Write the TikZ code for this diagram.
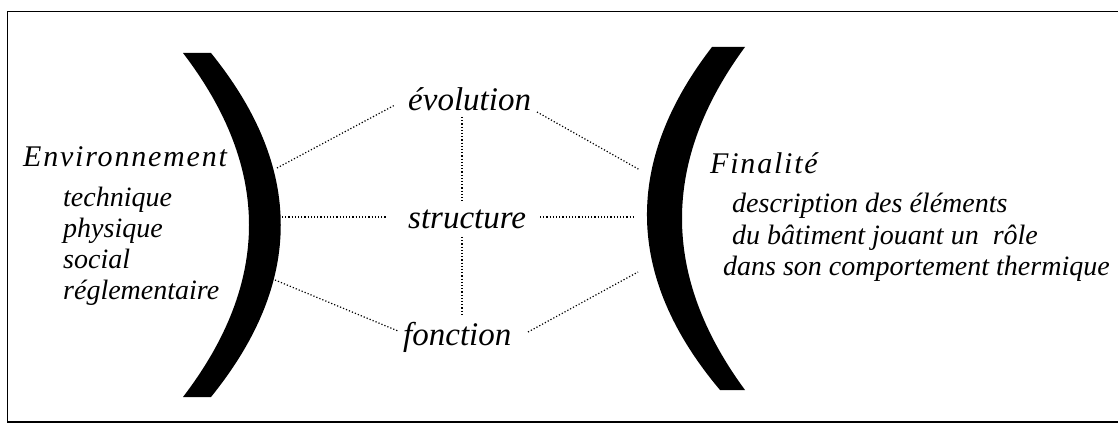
\documentclass[tikz,border=0pt]{standalone}
\usepackage{fontspec}
\setmainfont{Liberation Serif}
\newfontfamily\headfont[LetterSpace=6]{Liberation Serif}
\begin{document}
\begin{tikzpicture}[x=1pt,y=-1pt,
  lbl/.style={anchor=base west,inner sep=0pt,font=\fontsize{28}{32}\selectfont\itshape},
  midlbl/.style={anchor=base west,inner sep=0pt,font=\fontsize{33}{36}\selectfont\itshape},
  headlbl/.style={anchor=base west,inner sep=0pt,font=\headfont\fontsize{30}{34}\selectfont\itshape},
  dots/.style={line width=1.2pt,dash pattern=on 1.2pt off 2pt},
  bracket/.style={fill=black,draw=none}]
\useasboundingbox (0,0) rectangle (1118,427);
\draw[line width=1.6pt] (7.5,11.5) rectangle (1130,422);
% brackets
\fill[bracket] (183,53) -- (211,53) .. controls (304,168) and (304,282) .. (211,397)
  -- (183,397) .. controls (271,282) and (271,168) .. (183,53) -- cycle;
\fill[bracket] (712,47) -- (745,47) .. controls (661,161) and (661,276) .. (745,390)
  -- (720,390) .. controls (624,276) and (624,161) .. (712,47) -- cycle;
% texts
\node[headlbl] (env) at (23,167) {Environnement};
\node[lbl] (tech) at (63,207) {technique};
\node[lbl] (phys) at (63,238) {physique};
\node[lbl] (soc) at (63,269) {social};
\node[lbl] (regl) at (63,300) {réglementaire};
\node[midlbl] (evo) at (408,111) {évolution};
\node[midlbl] (str) at (408,229) {structure};
\node[midlbl] (fon) at (403,345) {fonction};
\node[headlbl] (fin) at (710,174) {Finalité};
\node[lbl] (d1) at (732,213) {description des éléments};
\node[lbl] (d2) at (732,245) {du bâtiment jouant un\ \ rôle};
\node[lbl] (d3) at (723,276) {dans son comportement thermique};
% connector end points
\coordinate (lb1) at (277,168);
\coordinate (lb2) at (282,217);
\coordinate (lb3) at (275,280);
\coordinate (rb1) at (640,170);
\coordinate (rb2) at (633,217);
\coordinate (rb3) at (638,272);
\coordinate (evoW) at (395,105);
\coordinate (evoE) at (537,112);
\coordinate (evoS) at (462,117);
\coordinate (strW) at (387,217);
\coordinate (strE) at (540,217);
\coordinate (strN) at (462,203);
\coordinate (strS) at (462,237);
\coordinate (fonW) at (398,331);
\coordinate (fonE) at (528,332);
\coordinate (fonN) at (462,315);
% dotted connectors
\draw[dots] (lb1) -- (evoW);
\draw[dots] (lb2) -- (strW);
\draw[dots] (lb3) -- (fonW);
\draw[dots] (evoS) -- (strN);
\draw[dots] (strS) -- (fonN);
\draw[dots] (evoE) -- (rb1);
\draw[dots] (strE) -- (rb2);
\draw[dots] (fonE) -- (rb3);
\end{tikzpicture}
\end{document}
